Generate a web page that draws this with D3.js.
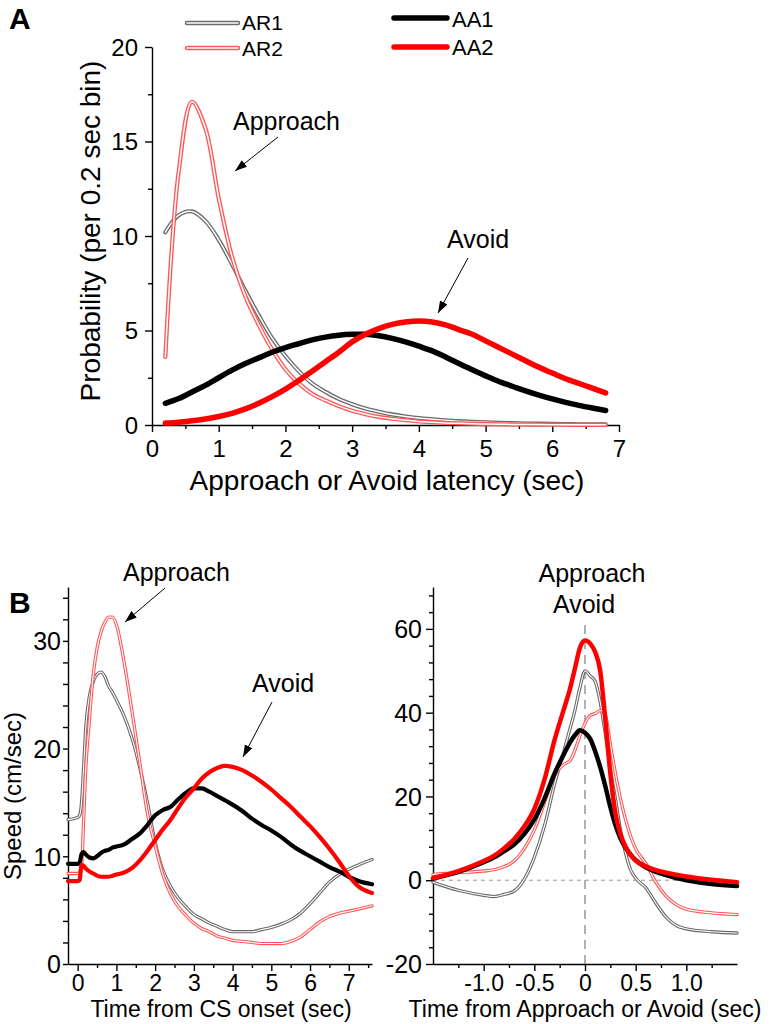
<!DOCTYPE html>
<html><head><meta charset="utf-8">
<script src="https://cdn.jsdelivr.net/npm/d3@7"></script>
<style>
body{margin:0;background:#fff}
svg text{font-family:"Liberation Sans",Arial,sans-serif;fill:#000}
</style>
</head><body>
<svg id="c" width="773" height="1024"></svg>
<script>
// ---------- Panel A: latency distributions ----------
const latencyX = [0.2,0.4,0.6,0.8,1.0,1.2,1.4,1.6,1.8,2.0,2.2,2.4,2.6,2.8,3.0,3.2,3.4,3.6,3.8,4.0,4.2,4.4,4.6,4.8,5.0,5.2,5.4,5.6,5.8,6.0,6.2,6.4,6.6,6.8];
const latAR1 = [10.2,11.1,11.3,10.8,9.8,8.5,7.1,5.8,4.6,3.65,2.85,2.2,1.75,1.38,1.1,0.87,0.7,0.56,0.45,0.37,0.3,0.25,0.2,0.17,0.14,0.12,0.1,0.08,0.07,0.06,0.05,0.04,0.035,0.03];
const latAR2 = [3.6,13.4,17.1,15.7,12.0,8.9,6.8,5.3,4.0,2.95,2.2,1.65,1.3,1.0,0.75,0.57,0.43,0.33,0.25,0.19,0.15,0.11,0.09,0.07,0.05,0.04,0.03,0.025,0.02,0.015,0.012,0.01,0.01,0.01];
const latAA1 = [1.15,1.4,1.75,2.1,2.5,2.9,3.25,3.55,3.85,4.1,4.3,4.5,4.65,4.75,4.8,4.8,4.72,4.58,4.4,4.17,3.92,3.6,3.25,2.92,2.6,2.3,2.05,1.8,1.58,1.38,1.2,1.04,0.9,0.77];
const latAA2 = [0.1,0.15,0.22,0.32,0.45,0.62,0.85,1.15,1.5,1.9,2.35,2.85,3.35,3.85,4.4,4.8,5.1,5.32,5.45,5.5,5.45,5.3,5.05,4.8,4.45,4.1,3.75,3.4,3.05,2.75,2.45,2.2,1.95,1.7];
const latXTicks = [0,1,2,3,4,5,6,7];
const latXMinor = [0.5,1.5,2.5,3.5,4.5,5.5,6.5];
const latYTicks = [0,5,10,15,20];
const latYMinor = [2.5,7.5,12.5,17.5];

// ---------- Panel B left: speed from CS onset ----------
const csX = [-0.25,0.0,0.05,0.1,0.15,0.2,0.3,0.4,0.5,0.6,0.7,0.8,0.9,1.0,1.2,1.4,1.6,1.8,2.0,2.2,2.4,2.6,2.8,3.0,3.2,3.4,3.6,3.8,4.0,4.25,4.5,4.75,5.0,5.25,5.5,5.75,6.0,6.25,6.5,6.75,7.0,7.25,7.6];
const csAR1 = [13.4,13.6,13.8,15.0,18.0,21.5,24.8,26.2,26.9,27.1,26.7,25.8,25.2,24.5,23.0,21.0,18.3,15.0,11.3,8.7,7.2,6.1,5.3,4.6,4.2,3.8,3.5,3.2,3.0,3.0,3.0,3.2,3.4,3.7,4.1,4.7,5.6,6.6,7.6,8.3,8.8,9.2,9.7];
const csAR2 = [8.4,8.4,8.5,9.0,13.0,17.5,22.5,26.8,29.3,30.8,31.7,32.2,32.2,31.5,28.0,23.5,18.8,14.0,11.0,8.3,6.5,5.3,4.5,3.8,3.3,3.0,2.6,2.4,2.2,2.1,2.0,1.9,1.9,1.9,2.1,2.5,3.2,3.9,4.4,4.7,4.9,5.1,5.4];
const csAA1 = [9.3,9.3,9.4,10.2,10.4,10.2,9.9,9.8,10.0,10.3,10.5,10.6,10.8,10.9,11.1,11.6,12.1,12.9,13.8,14.3,14.6,15.3,15.9,16.3,16.3,16.0,15.6,15.2,14.8,14.2,13.5,12.9,12.4,11.8,11.1,10.5,10.0,9.5,9.0,8.6,8.1,7.7,7.4];
const csAA2 = [7.7,7.7,7.8,9.2,9.1,8.9,8.6,8.4,8.2,8.1,8.1,8.1,8.2,8.3,8.5,8.9,9.6,10.5,11.5,12.5,13.4,14.5,15.5,16.3,17.2,17.8,18.2,18.4,18.3,18.0,17.5,16.9,16.2,15.4,14.6,13.7,12.8,11.8,10.7,9.5,8.2,7.2,6.6];
const csXTicks = [0,1,2,3,4,5,6,7];
const csXMinor = [0.5,1.5,2.5,3.5,4.5,5.5,6.5,7.5];
const csYTicks = [0,10,20,30];
const csYMinor = [2,4,6,8,12,14,16,18,22,24,26,28,32,34];

// ---------- Panel B right: speed around approach/avoid ----------
const evX = [-1.5,-1.25,-1.0,-0.9,-0.8,-0.7,-0.6,-0.5,-0.4,-0.3,-0.2,-0.15,-0.1,-0.05,0,0.05,0.1,0.15,0.2,0.25,0.3,0.35,0.4,0.45,0.5,0.6,0.7,0.8,0.9,1.0,1.25,1.5];
const evAR1 = [-0.5,-2.4,-3.6,-3.9,-3.4,-2.6,0.2,5.5,13.0,23.0,31.5,36.0,40.5,46.0,50.0,48.8,47.5,42.5,35.0,26.5,19.5,12.0,6.5,2.5,0.5,-1.8,-5.5,-8.8,-10.8,-11.6,-12.3,-12.6];
const evAR2 = [1.4,1.8,2.2,2.5,3.2,4.6,7.5,12.0,18.5,25.0,27.8,28.5,31.0,34.5,37.5,39.3,39.8,40.5,39.5,32.5,25.5,19.5,14.5,10.5,7.5,4.0,-0.5,-3.8,-5.8,-6.9,-7.8,-8.2];
const evAA1 = [0.4,2.0,4.3,5.4,6.9,8.5,11.0,14.5,19.5,25.5,30.5,32.8,34.6,35.8,35.2,33.8,30.8,27.0,22.5,17.5,13.2,10.0,7.8,6.1,4.8,3.1,2.0,1.2,0.5,0.0,-0.9,-1.4];
const evAA2 = [0.5,2.2,4.6,5.8,7.6,9.8,12.8,17.0,24.0,33.5,41.5,45.5,50.5,55.5,57.2,56.5,54.5,50.0,38.5,25.5,16.0,11.0,8.0,6.0,4.7,3.3,2.4,1.8,1.3,0.9,0.1,-0.5];
const evXTicks = [-1.0,-0.5,0,0.5,1.0];
const evXMinor = [-1.25,-0.75,-0.25,0.25,0.75,1.25];
const evYTicks = [-20,0,20,40,60];
const evYMinor = [-16,-12,-8,-4,4,8,12,16,24,28,32,36,44,48,52,56,64,68];

const seriesNames = ["AR1","AR2","AA1","AA2"];

const GRAY = "#6a6a6a", LRED = "#ff5757", RED = "#ff0000";
const svg = d3.select("#c");
const hy = s => String(s).replace("\u2212","-");

svg.append("defs").append("marker")
  .attr("id","ah").attr("viewBox","0 0 10 10").attr("refX",10).attr("refY",5)
  .attr("markerWidth",12).attr("markerHeight",12).attr("markerUnits","userSpaceOnUse")
  .attr("orient","auto")
  .append("path").attr("d","M0,1.5L10,5L0,8.5Z").attr("fill","#000");

function drawSeries(g, xs, ys, x, y, style, curve) {
  const line = d3.line().x((d,i)=>x(xs[i])).y(d=>y(d)).curve(curve);
  g.append("path").attr("d", line(ys)).attr("fill","none").attr("stroke",style.color)
    .attr("stroke-width",style.w).attr("stroke-linecap","round").attr("stroke-linejoin","round");
  if (style.hollow) {
    g.append("path").attr("d", line(ys)).attr("fill","none").attr("stroke","#fff")
      .attr("stroke-width",style.wi).attr("stroke-linecap","round").attr("stroke-linejoin","round");
  }
}

function axes(g, x, y, o) {
  const bx = g.append("g").attr("transform",`translate(0,${y.range()[0]})`)
    .call(d3.axisBottom(x).tickValues(o.xt).tickSize(7).tickSizeOuter(0).tickFormat(o.xf));
  bx.selectAll("text").attr("y", o.xly).attr("dy",0).style("font-size", o.xfs+"px");
  g.append("g").attr("transform",`translate(0,${y.range()[0]})`)
    .call(d3.axisBottom(x).tickValues(o.xm).tickSize(4).tickFormat("")).select(".domain").remove();
  const ly = g.append("g").attr("transform",`translate(${x.range()[0]},0)`)
    .call(d3.axisLeft(y).tickValues(o.yt).tickSize(o.yts).tickSizeOuter(0).tickPadding(o.ypad).tickFormat(d=>hy(d)));
  ly.selectAll("text").style("font-size", o.yfs+"px").attr("dy","0.35em");
  g.append("g").attr("transform",`translate(${x.range()[0]},0)`)
    .call(d3.axisLeft(y).tickValues(o.ym).tickSize(o.ymts).tickFormat("")).select(".domain").remove();
  g.selectAll(".domain, .tick line").attr("stroke","#000").attr("stroke-width",1.4);
  g.selectAll("g").attr("font-family",null).attr("font-size",null);
}

function arrow(g, x1,y1,x2,y2) {
  g.append("line").attr("x1",x1).attr("y1",y1).attr("x2",x2).attr("y2",y2)
    .attr("stroke","#000").attr("stroke-width",1).attr("marker-end","url(#ah)");
}

// ===== Panel A =====
const gA = svg.append("g");
const xA = d3.scaleLinear().domain([0,7]).range([152,619]);
const yA = d3.scaleLinear().domain([0,20]).range([425,47]);
axes(gA, xA, yA, {xt:latXTicks, xm:latXMinor, xf:d3.format("d"), xly:32, xfs:24,
  yt:latYTicks, ym:latYMinor, yts:7, ymts:4, ypad:7, yfs:24});
const curveA = d3.curveCatmullRom.alpha(0.5);
drawSeries(gA, latencyX, latAR1, xA, yA, {hollow:true,color:GRAY,w:4.2,wi:1.5}, curveA);
drawSeries(gA, latencyX, latAR2, xA, yA, {hollow:true,color:LRED,w:4.2,wi:1.5}, curveA);
drawSeries(gA, latencyX, latAA1, xA, yA, {color:"#000",w:5.5}, curveA);
drawSeries(gA, latencyX, latAA2, xA, yA, {color:RED,w:5.5}, curveA);

gA.append("text").attr("x",387).attr("y",490).attr("text-anchor","middle").style("font-size","28px")
  .text("Approach or Avoid latency (sec)");
gA.append("text").attr("transform","translate(100,231) rotate(-90)").attr("text-anchor","middle")
  .style("font-size","28px").text("Probability (per 0.2 sec bin)");
gA.append("text").attr("x",9).attr("y",29).style("font-size","30px").style("font-weight","bold").text("A");
gA.append("text").attr("x",233).attr("y",130).style("font-size","25px").text("Approach");
arrow(gA, 278,137, 235,171);
gA.append("text").attr("x",447).attr("y",248).style("font-size","25px").text("Avoid");
arrow(gA, 468,258, 438,313);

// legend
const leg = gA.append("g");
const legRows = [
  {name:seriesNames[0], x1:187, x2:238, y:23, tx:242, ty:30, st:{hollow:true,color:GRAY,w:4.5,wi:1.6}, fs:21},
  {name:seriesNames[1], x1:187, x2:238, y:48, tx:242, ty:56, st:{hollow:true,color:LRED,w:4.5,wi:1.6}, fs:21},
  {name:seriesNames[2], x1:394, x2:447, y:18, tx:452, ty:27, st:{color:"#000",w:5.5}, fs:22},
  {name:seriesNames[3], x1:394, x2:447, y:47, tx:452, ty:55, st:{color:RED,w:5.5}, fs:22}
];
legRows.forEach(r=>{
  const p = `M${r.x1},${r.y}L${r.x2},${r.y}`;
  leg.append("path").attr("d",p).attr("stroke",r.st.color).attr("stroke-width",r.st.w).attr("stroke-linecap","round");
  if (r.st.hollow) leg.append("path").attr("d",p).attr("stroke","#fff").attr("stroke-width",r.st.wi).attr("stroke-linecap","round");
  leg.append("text").attr("x",r.tx).attr("y",r.ty).style("font-size",r.fs+"px").text(r.name);
});

// ===== Panel B left =====
const gB = svg.append("g");
const xB = d3.scaleLinear().domain([-0.25,7.6]).range([68,372]);
const yB = d3.scaleLinear().domain([0,35]).range([964,587]);
axes(gB, xB, yB, {xt:csXTicks, xm:csXMinor, xf:d3.format("d"), xly:27, xfs:23,
  yt:csYTicks, ym:csYMinor, yts:5, ymts:5, ypad:2, yfs:25});
const curveB = d3.curveMonotoneX;
drawSeries(gB, csX, csAR1, xB, yB, {hollow:true,color:GRAY,w:3.3,wi:1.1}, curveB);
drawSeries(gB, csX, csAR2, xB, yB, {hollow:true,color:LRED,w:3.3,wi:1.1}, curveB);
drawSeries(gB, csX, csAA1, xB, yB, {color:"#000",w:4.2}, curveB);
drawSeries(gB, csX, csAA2, xB, yB, {color:RED,w:4.2}, curveB);
gB.append("text").attr("x",221).attr("y",1017).attr("text-anchor","middle").style("font-size","23px")
  .text("Time from CS onset (sec)");
gB.append("text").attr("transform","translate(21,796) rotate(-90)").attr("text-anchor","middle")
  .style("font-size","24px").text("Speed (cm/sec)");
gB.append("text").attr("x",9).attr("y",613).style("font-size","30px").style("font-weight","bold").text("B");
gB.append("text").attr("x",123).attr("y",581).style("font-size","25px").text("Approach");
arrow(gB, 165,588, 125,622);
gB.append("text").attr("x",252).attr("y",692).style("font-size","25px").text("Avoid");
arrow(gB, 272,702, 243,757);

// ===== Panel B right =====
const gC = svg.append("g");
const xC = d3.scaleLinear().domain([-1.5,1.5]).range([433,737]);
const yC = d3.scaleLinear().domain([-20,70]).range([964,587]);
gC.append("line").attr("x1",xC(-1.5)).attr("x2",xC(1.5)).attr("y1",yC(0)).attr("y2",yC(0))
  .attr("stroke","#999").attr("stroke-width",1).attr("stroke-dasharray","4,4");
gC.append("line").attr("x1",xC(0)).attr("x2",xC(0)).attr("y1",625).attr("y2",yC(-20))
  .attr("stroke","#b0b0b0").attr("stroke-width",2).attr("stroke-dasharray","9,6");
axes(gC, xC, yC, {xt:evXTicks, xm:evXMinor, xf:d=>d===0?"0":hy(d3.format(".1f")(d)), xly:27, xfs:23,
  yt:evYTicks, ym:evYMinor, yts:7, ymts:4, ypad:4, yfs:25});
drawSeries(gC, evX, evAR1, xC, yC, {hollow:true,color:GRAY,w:3.3,wi:1.1}, curveB);
drawSeries(gC, evX, evAR2, xC, yC, {hollow:true,color:LRED,w:3.3,wi:1.1}, curveB);
drawSeries(gC, evX, evAA1, xC, yC, {color:"#000",w:4.5}, curveB);
drawSeries(gC, evX, evAA2, xC, yC, {color:RED,w:4.5}, curveB);
gC.append("text").attr("x",585).attr("y",1017).attr("text-anchor","middle").style("font-size","23px")
  .text("Time from Approach or Avoid (sec)");
gC.append("text").attr("x",592).attr("y",582).attr("text-anchor","middle").style("font-size","25px").text("Approach");
gC.append("text").attr("x",584).attr("y",613).attr("text-anchor","middle").style("font-size","25px").text("Avoid");
</script>
</body></html>
